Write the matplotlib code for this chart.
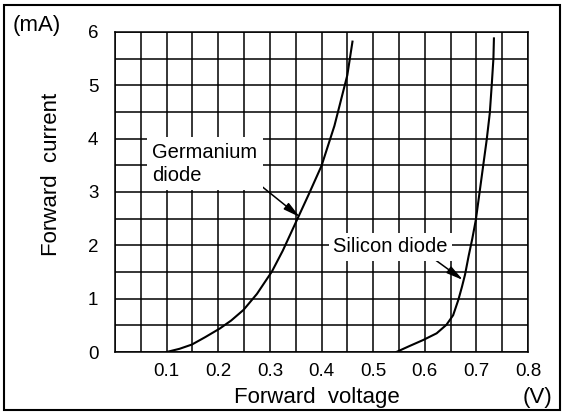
import matplotlib
matplotlib.use("Agg")
import matplotlib.pyplot as plt
from matplotlib.patches import Rectangle

plt.rcParams['font.family'] = ['Liberation Sans', 'DejaVu Sans']

# Data
ge_v = [0.100, 0.125, 0.149, 0.175, 0.203, 0.225, 0.249, 0.275, 0.304, 0.325, 0.355, 0.375, 0.400, 0.425, 0.450, 0.460]
ge_i = [0.00, 0.06, 0.14, 0.28, 0.44, 0.59, 0.79, 1.09, 1.51, 1.90, 2.53, 2.95, 3.49, 4.24, 5.19, 5.82]
si_v = [0.545, 0.570, 0.597, 0.623, 0.642, 0.655, 0.665, 0.672, 0.678, 0.685, 0.692, 0.699, 0.706, 0.713, 0.720, 0.726, 0.7297, 0.733, 0.734]
si_i = [0.00, 0.11, 0.225, 0.35, 0.51, 0.69, 0.975, 1.22, 1.45, 1.80, 2.12, 2.48, 2.98, 3.48, 3.98, 4.48, 5.00, 5.50, 5.88]

x_ticks = [0.1, 0.2, 0.3, 0.4, 0.5, 0.6, 0.7, 0.8]
x_tick_labels = ["0.1", "0.2", "0.3", "0.4", "0.5", "0.6", "0.7", "0.8"]
y_ticks = [0, 1, 2, 3, 4, 5, 6]
y_tick_labels = ["0", "1", "2", "3", "4", "5", "6"]

W, H = 565, 415
fig = plt.figure(figsize=(W / 100, H / 100), dpi=100)
fig.patch.set_facecolor('white')

L, R, T, B = 115, 528, 32, 352
ax = fig.add_axes([L / W, 1 - B / H, (R - L) / W, (B - T) / H])
ax.set_xlim(0, 0.8)
ax.set_ylim(0, 6)

ax.set_xticks(x_ticks)
ax.set_xticklabels(x_tick_labels)
ax.set_xticks([i * 0.05 for i in range(17)], minor=True)
ax.set_yticks(y_ticks)
ax.set_yticklabels(y_tick_labels)
ax.set_yticks([i * 0.5 for i in range(13)], minor=True)
ax.tick_params(which='both', length=0)
ax.tick_params(axis='x', pad=8, labelsize=13.5)
ax.tick_params(axis='y', pad=12, labelsize=13.5)
ax.grid(which='both', color='black', lw=1.1)
ax.set_axisbelow(True)
for s in ax.spines.values():
    s.set_linewidth(1.1)

ax.plot(ge_v, ge_i, color='black', lw=1.5, zorder=3)
ax.plot(si_v, si_i, color='black', lw=1.5, zorder=3)

ap = dict(arrowstyle='-|>,head_length=0.5,head_width=0.12', color='black', lw=1.1,
          shrinkA=0, shrinkB=0, mutation_scale=20)
ax.annotate('', xy=(0.358, 2.53), xytext=(0.285, 3.10), arrowprops=ap, zorder=4)
ax.annotate('', xy=(0.674, 1.35), xytext=(0.620, 1.73), arrowprops=ap, zorder=4)

ax.text(0.072, 3.53, 'Germanium\ndiode', fontsize=14.5, ha='left', va='center',
        linespacing=1.25, zorder=5,
        bbox=dict(fc='white', ec='none', pad=4))
ax.text(0.422, 1.97, 'Silicon diode', fontsize=14.5, ha='left', va='center', zorder=5,
        bbox=dict(fc='white', ec='none', pad=3))

def fx(px):
    return px / W

def fy(py):
    return 1 - py / H

fig.text(fx(37), fy(25), '(mA)', fontsize=16, ha='center', va='center')
fig.text(fx(537), fy(397), '(V)', fontsize=16, ha='center', va='center')
fig.text(fx(317), fy(397), 'Forward  voltage', fontsize=16, ha='center', va='center')
fig.text(fx(52), fy(174), 'Forward  current', fontsize=16, ha='center', va='center', rotation=90)

fig.patches.append(Rectangle((fx(4), fy(410)), fx(556), 405 / H, transform=fig.transFigure,
                             fill=False, ec='black', lw=1.5))

fig.savefig('out.png', dpi=100)
